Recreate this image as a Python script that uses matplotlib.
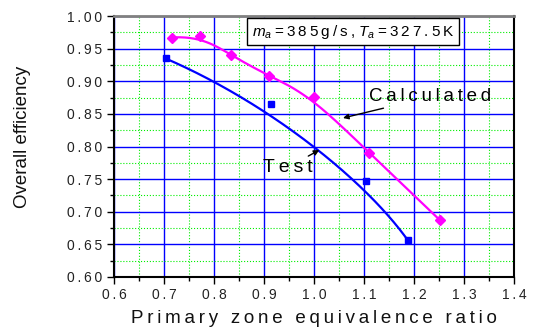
import numpy as np
import matplotlib
matplotlib.use("Agg")
import matplotlib.pyplot as plt
from matplotlib.ticker import MultipleLocator, FixedLocator

plt.rcParams['font.family'] = ['Liberation Sans', 'DejaVu Sans']
plt.rcParams['mathtext.fontset'] = 'custom'
plt.rcParams['mathtext.it'] = 'Liberation Sans:italic'
plt.rcParams['mathtext.rm'] = 'Liberation Sans'

# data
calc_x = [0.715, 0.771, 0.833, 0.910, 1.000, 1.110, 1.252]
calc_y = [0.967, 0.970, 0.940, 0.908, 0.876, 0.790, 0.687]
test_x = [0.703, 0.914, 1.103, 1.187]
test_y = [0.935, 0.865, 0.747, 0.657]
xticks = [0.6, 0.7, 0.8, 0.9, 1.0, 1.1, 1.2, 1.3, 1.4]
yticks = [0.60, 0.65, 0.70, 0.75, 0.80, 0.85, 0.90, 0.95, 1.00]

TS = '\u2009'
def spaced(s, sep=TS):
    return sep.join(list(s))


def bspline(px, py, k=3, n=300):
    """Clamped uniform B-spline with the data points as control points."""
    P = np.column_stack([px, py])
    m = len(P)
    k = min(k, m - 1)
    inner = np.linspace(0, 1, m - k + 1)[1:-1]
    knots = np.concatenate([np.zeros(k + 1), inner, np.ones(k + 1)])
    ts = np.linspace(0, 1, n)
    ts[-1] = 1 - 1e-12

    def basis(i, d, t):
        if d == 0:
            return np.where((knots[i] <= t) & (t < knots[i + 1]), 1.0, 0.0)
        out = np.zeros_like(t)
        den1 = knots[i + d] - knots[i]
        den2 = knots[i + d + 1] - knots[i + 1]
        if den1 > 0:
            out += (t - knots[i]) / den1 * basis(i, d - 1, t)
        if den2 > 0:
            out += (knots[i + d + 1] - t) / den2 * basis(i + 1, d - 1, t)
        return out

    B = np.column_stack([basis(i, k, ts) for i in range(m)])
    C = B @ P
    return C[:, 0], C[:, 1]


fig = plt.figure(figsize=(5.36, 3.31), dpi=100)
ax = fig.add_axes([114/536, 1-277/331, 400/536, 261/331])

cx, cy = bspline(calc_x, calc_y)
ax.plot(cx, cy, color='#ff00ff', lw=1.6, zorder=3)
tx, ty = bspline(test_x, test_y)
ax.plot(tx, ty, color='#0000ff', lw=1.6, zorder=3)

ax.plot(calc_x, calc_y, 'D', color='#ff00ff', ms=5, zorder=4)
ax.plot(test_x, test_y, 's', color='#0000ff', ms=4.5, zorder=4)

ax.set_xlim(0.6, 1.4)
ax.set_ylim(0.6, 1.0)
ax.xaxis.set_major_locator(FixedLocator(xticks))
ax.yaxis.set_major_locator(FixedLocator(yticks))
ax.xaxis.set_minor_locator(MultipleLocator(0.05))
ax.yaxis.set_minor_locator(MultipleLocator(0.025))
ax.set_xticklabels([spaced(f'{v:.1f}') for v in xticks], fontsize=10)
ax.set_yticklabels([spaced(f'{v:.2f}') for v in yticks], fontsize=10)

ax.grid(which='major', color='#0000ff', lw=1.0, ls='-', zorder=1)
ax.grid(which='minor', color='#00ee00', lw=0.8, ls=':', zorder=1)
ax.set_axisbelow(True)

ax.tick_params(which='major', direction='out', length=5, width=1, colors='black')
ax.tick_params(which='minor', direction='out', length=3, width=1)
ax.tick_params(axis='x', pad=3, labelcolor='#222222')
ax.tick_params(axis='y', labelcolor='#222222')
for s in ['left', 'bottom', 'right']:
    ax.spines[s].set_linewidth(1.5)
    ax.spines[s].set_color('black')
ax.spines['top'].set_linewidth(2)
ax.spines['top'].set_color('#808080')

ax.set_xlabel(spaced('Primary zone equivalence ratio'), fontsize=13.5, labelpad=6,
              color='#111111')
ax.set_ylabel('Overall efficiency', fontsize=13.5, color='#111111')
ax.yaxis.set_label_coords(-83/400, 0.535)

box_text = r'$m_{a}$' + TS + spaced('=385g/s,') + ' ' + r'$T_{a}$' + TS + spaced('=327.5K')
ax.text(1.078, 0.976, box_text, fontsize=11,
        ha='center', va='center', zorder=5,
        bbox=dict(boxstyle='square,pad=0.3', fc='white', ec='black', lw=1))

ax.annotate(spaced('Calculated'), xy=(1.058, 0.8437), xytext=(1.11, 0.876),
            fontsize=13.5, ha='left', va='center', zorder=5,
            arrowprops=dict(arrowstyle='-|>', color='black', lw=1, shrinkA=0, shrinkB=0,
                            mutation_scale=8))
ax.annotate(spaced('Test'), xy=(1.0106, 0.7946), xytext=(0.898, 0.768),
            fontsize=14, ha='left', va='center', zorder=5,
            arrowprops=dict(arrowstyle='-|>', color='black', lw=1, shrinkA=0, shrinkB=0,
                            mutation_scale=8))

fig.savefig('out.png', dpi=100)
